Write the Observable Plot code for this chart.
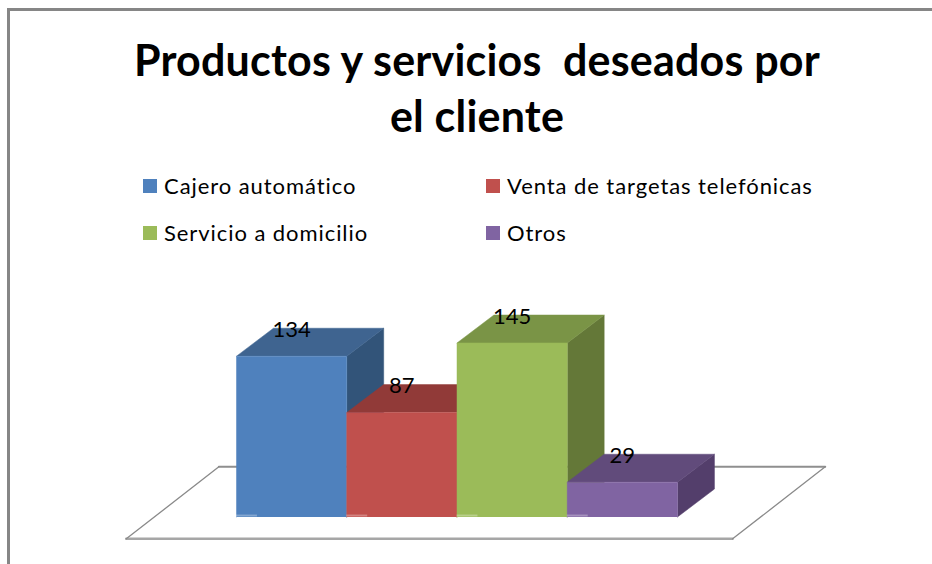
<!DOCTYPE html>
<html lang="es">
<head>
<meta charset="utf-8">
<script src="https://cdn.jsdelivr.net/npm/d3@7"></script>
<script src="https://cdn.jsdelivr.net/npm/@observablehq/plot@0.6"></script>
<style>
  html, body { margin: 0; padding: 0; background: #fff; overflow: hidden; }
  #frame { position: relative; box-sizing: border-box; margin: 8px 0 0 7px; width: 925px; height: 556px;
    border-top: 3px solid #868686; border-left: 3px solid #868686; font-family: Lato, sans-serif; color: #000; }
  #title { position: absolute; left: 0; top: 21px; width: 934px; text-align: center; font-weight: 700;
    font-size: 43px; letter-spacing: .2px; line-height: 56px; white-space: pre-wrap; }
  #legend { position: absolute; left: 133px; top: 151px; display: grid; grid-template-columns: 343px auto; grid-auto-rows: 47px; }
  .item { display: flex; align-items: center; font-size: 22px; letter-spacing: .93px; height: 47px; }
  .sw { width: 14px; height: 14px; margin-right: 7px; flex: none; }
  #chart { position: absolute; left: 0; top: 259px; }
  #chart svg { display: block; }
</style>
</head>
<body>
<div id="frame">
  <div id="title"></div>
  <div id="legend"></div>
  <div id="chart"></div>
</div>
<script>
const titleLines = ["Productos y servicios  deseados por", "el cliente"];
const categories = ["Cajero automático", "Venta de targetas telefónicas", "Servicio a domicilio", "Otros"];
const values = [134, 87, 145, 29];
const frontColors = ["#4F81BD", "#C0504D", "#9BBB59", "#8064A2"];
const topColors = ["#3F6490", "#913A38", "#7A9446", "#614B7B"];
const sideColors = ["#325479", "#7A302E", "#647838", "#533E6B"];

// Depth of the 3D bars, in data units
const depthX = 0.335, depthY = 23.3;
// Floor extent, in data units
const floorLeft = -1, floorRight = 4.5, floorFront = -18.2, floorBack = 41.8, floorShift = 0.84;

document.getElementById("title").textContent = titleLines.join("\n");
document.getElementById("legend").innerHTML = categories.map((c, i) =>
  `<div class="item"><span class="sw" style="background:${frontColors[i]}"></span>${c}</div>`).join("");

const faces = [];
categories.forEach((c, i) => {
  const v = values[i];
  const add = (face, fill, pts) => pts.forEach(([x, y]) => faces.push({id: c + face, fill, x, y}));
  add("side", sideColors[i], [[i + 1, 0], [i + 1 + depthX, depthY], [i + 1 + depthX, v + depthY], [i + 1, v]]);
  add("top", topColors[i], [[i, v], [i + depthX, v + depthY], [i + 1 + depthX, v + depthY], [i + 1, v]]);
  add("front", frontColors[i], [[i, 0], [i, v], [i + 1, v], [i + 1, 0]]);
});

const floorFill = [
  {x: floorLeft, y: floorFront}, {x: floorLeft + floorShift, y: floorBack},
  {x: floorRight + floorShift, y: floorBack}, {x: floorRight, y: floorFront}
];
const edge = (a, b) => [floorFill[a], floorFill[b]];

const chart = Plot.plot({
  width: 922,
  height: 294,
  margin: 0,
  x: {domain: [-2.05, 6.313], axis: null},
  y: {domain: [-39.6, 205.4], axis: null},
  marks: [
    Plot.line(floorFill, {x: "x", y: "y", fill: "#fff", stroke: "none"}),
    Plot.line(edge(1, 2), {x: "x", y: "y", stroke: "#8f8f8f", strokeWidth: 2}),
    Plot.line(edge(0, 3), {x: "x", y: "y", stroke: "#a6a6a6", strokeWidth: 2.5}),
    Plot.line(edge(0, 1), {x: "x", y: "y", stroke: "#8a8a8a", strokeWidth: 1.3}),
    Plot.line(edge(3, 2), {x: "x", y: "y", stroke: "#8a8a8a", strokeWidth: 1.3}),
    Plot.line(faces, {x: "x", y: "y", z: "id", fill: "fill", stroke: "fill", strokeWidth: 0.5, curve: "linear"}),
    Plot.rect(values, {x1: (d, i) => i, x2: (d, i) => i + 0.19, y1: 0, y2: 1.6, fill: "#fff", fillOpacity: 0.3}),
    Plot.text(values, {
      x: (d, i) => i + 0.5,
      y: (d) => d + 22,
      text: (d) => String(d),
      fontSize: 22,
      fontFamily: "Lato, sans-serif",
      fill: "#000",
      lineAnchor: "middle"
    })
  ]
});
document.getElementById("chart").appendChild(chart);
</script>
</body>
</html>
